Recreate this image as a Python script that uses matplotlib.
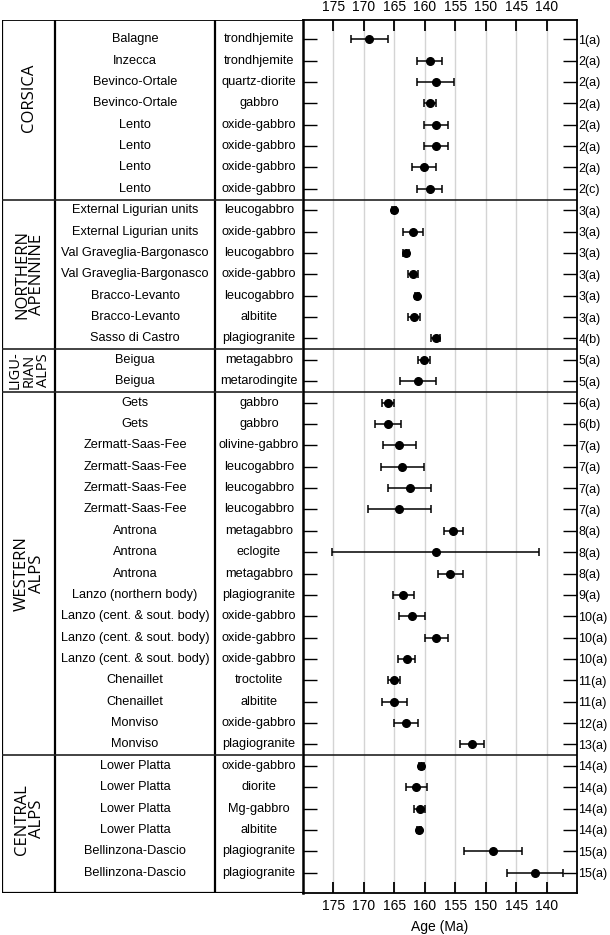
import matplotlib.pyplot as plt
import numpy as np

plt.rcParams['font.family'] = ['Liberation Sans', 'DejaVu Sans']

# groups of the table
locations = ['CORSICA', 'NORTHERN\nAPENNINE', 'LIGU-\nRIAN\nALPS', 'WESTERN\nALPS', 'CENTRAL\nALPS']
group_sizes = [8, 7, 2, 17, 6]

ophiolites = [
    'Balagne', 'Inzecca', 'Bevinco-Ortale', 'Bevinco-Ortale', 'Lento', 'Lento', 'Lento', 'Lento',
    'External Ligurian units', 'External Ligurian units', 'Val Graveglia-Bargonasco',
    'Val Graveglia-Bargonasco', 'Bracco-Levanto', 'Bracco-Levanto', 'Sasso di Castro',
    'Beigua', 'Beigua',
    'Gets', 'Gets', 'Zermatt-Saas-Fee', 'Zermatt-Saas-Fee', 'Zermatt-Saas-Fee', 'Zermatt-Saas-Fee',
    'Antrona', 'Antrona', 'Antrona', 'Lanzo (northern body)', 'Lanzo (cent. & sout. body)',
    'Lanzo (cent. & sout. body)', 'Lanzo (cent. & sout. body)', 'Chenaillet', 'Chenaillet',
    'Monviso', 'Monviso',
    'Lower Platta', 'Lower Platta', 'Lower Platta', 'Lower Platta', 'Bellinzona-Dascio',
    'Bellinzona-Dascio',
]

rock_types = [
    'trondhjemite', 'trondhjemite', 'quartz-diorite', 'gabbro', 'oxide-gabbro', 'oxide-gabbro',
    'oxide-gabbro', 'oxide-gabbro',
    'leucogabbro', 'oxide-gabbro', 'leucogabbro', 'oxide-gabbro', 'leucogabbro', 'albitite',
    'plagiogranite',
    'metagabbro', 'metarodingite',
    'gabbro', 'gabbro', 'olivine-gabbro', 'leucogabbro', 'leucogabbro', 'leucogabbro',
    'metagabbro', 'eclogite', 'metagabbro', 'plagiogranite', 'oxide-gabbro', 'oxide-gabbro',
    'oxide-gabbro', 'troctolite', 'albitite', 'oxide-gabbro', 'plagiogranite',
    'oxide-gabbro', 'diorite', 'Mg-gabbro', 'albitite', 'plagiogranite', 'plagiogranite',
]

ages = [
    169.1, 159.2, 158.2, 159.2, 158.2, 158.2, 160.1, 159.2,
    165.1, 161.9, 163.1, 161.9, 161.3, 161.8, 158.2,
    160.1, 161.1,
    166.1, 166.0, 164.2, 163.7, 162.5, 164.2, 155.3, 158.2, 155.8, 163.5, 162.1, 158.1,
    163.0, 165.0, 165.0, 163.1, 152.2,
    160.6, 161.4, 160.8, 161.0, 148.8, 141.9,
]

errors = [
    3.0, 2.0, 3.0, 1.0, 2.0, 2.0, 2.0, 2.0,
    0.3, 1.6, 0.5, 0.8, 0.3, 1.0, 0.7,
    1.0, 3.0,
    1.0, 2.1, 2.7, 3.5, 3.5, 5.2, 1.6, 17.0, 2.1, 1.7, 2.2, 1.9,
    1.4, 1.0, 2.0, 2.0, 2.0,
    0.4, 1.7, 0.9, 0.3, 4.7, 4.65,
]

refs = [
    '1(a)', '2(a)', '2(a)', '2(a)', '2(a)', '2(a)', '2(a)', '2(c)',
    '3(a)', '3(a)', '3(a)', '3(a)', '3(a)', '3(a)', '4(b)',
    '5(a)', '5(a)',
    '6(a)', '6(b)', '7(a)', '7(a)', '7(a)', '7(a)', '8(a)', '8(a)', '8(a)', '9(a)',
    '10(a)', '10(a)', '10(a)', '11(a)', '11(a)', '12(a)', '13(a)',
    '14(a)', '14(a)', '14(a)', '14(a)', '15(a)', '15(a)',
]

age_ticks = [175, 170, 165, 160, 155, 150, 145, 140]

W, H = 610, 935
fig = plt.figure(figsize=(W / 100, H / 100), dpi=100)

top_px, bot_px = 20, 893
plot_l, plot_r = 303, 577
y = np.arange(len(ages))
ylim = (len(ages) - 0.05, -0.9)

ax = fig.add_axes([plot_l / W, 1 - bot_px / H, (plot_r - plot_l) / W, (bot_px - top_px) / H])
tab = fig.add_axes([2 / W, 1 - bot_px / H, (plot_l - 2) / W, (bot_px - top_px) / H])

# ---- age plot ----
for t in age_ticks:
    ax.axvline(t, color='#d4d4d4', lw=1.0, zorder=0)
ax.errorbar(ages, y, xerr=errors, fmt='o', color='black', ms=5.5,
            capsize=3, elinewidth=1.1, capthick=1.1, zorder=3)
ax.set_xlim(180, 135)
ax.set_ylim(*ylim)
ax.set_xticks(age_ticks)
ax.tick_params(axis='x', direction='in', length=8, width=1.3, top=True, bottom=True,
               labeltop=True, labelbottom=True, labelsize=10, pad=4)
ax.set_yticks(y)
ax.set_yticklabels(refs)
ax.tick_params(axis='y', direction='in', length=10, width=1.0, left=True, right=True,
               labelleft=False, labelright=True, labelsize=9, pad=1)
ax.set_xlabel('Age (Ma)', fontsize=10, labelpad=5)
for s in ax.spines.values():
    s.set_linewidth(1.3)
ax.spines['left'].set_linewidth(1.8)

# ---- table ----
tab.set_xlim(0, plot_l - 2)
tab.set_ylim(*ylim)
tab.axis('off')

col_loc = (0, 53)
col_oph = (53, 213)
col_rock = (213, 301)
for xv in [col_loc[0], col_loc[1], col_oph[1]]:
    tab.axvline(xv, color='black', lw=1.6)
tab.axhline(ylim[1], color='black', lw=1.3)
tab.axhline(ylim[0], color='black', lw=1.6)

for i in range(len(ages)):
    tab.text(sum(col_oph) / 2, i, ophiolites[i], ha='center', va='center', fontsize=9.2)
    tab.text(sum(col_rock) / 2, i, rock_types[i], ha='center', va='center', fontsize=9.2)

# CORSICA label sits a bit above its group's centre in the original
label_shift = {'CORSICA': -0.75}
start = 0
for name, n in zip(locations, group_sizes):
    mid = start + (n - 1) / 2 + label_shift.get(name, 0)
    fs = 10.5 if n < 4 else 12
    tab.text(sum(col_loc) / 2 + 1, mid, name, rotation=90, ha='center', va='center',
             fontsize=fs, linespacing=0.92, family=['Open Sans', 'DejaVu Sans'])
    start += n
    if start < len(ages):
        tab.axhline(start - 0.5, color='#222222', lw=1.2)
        ax.axhline(start - 0.5, color='#222222', lw=1.2)

# header
hdr_y = 1 + 10 / (bot_px - top_px)
tab.text(23, hdr_y, 'Location', ha='center', va='center', fontsize=9.2,
         transform=tab.get_yaxis_transform())
tab.text(141, hdr_y, 'ophiolite', ha='center', va='center', fontsize=9.2,
         transform=tab.get_yaxis_transform())
tab.text(256, hdr_y, 'rock-type', ha='center', va='center', fontsize=9.2,
         transform=tab.get_yaxis_transform())

fig.savefig('out.png', dpi=100)
